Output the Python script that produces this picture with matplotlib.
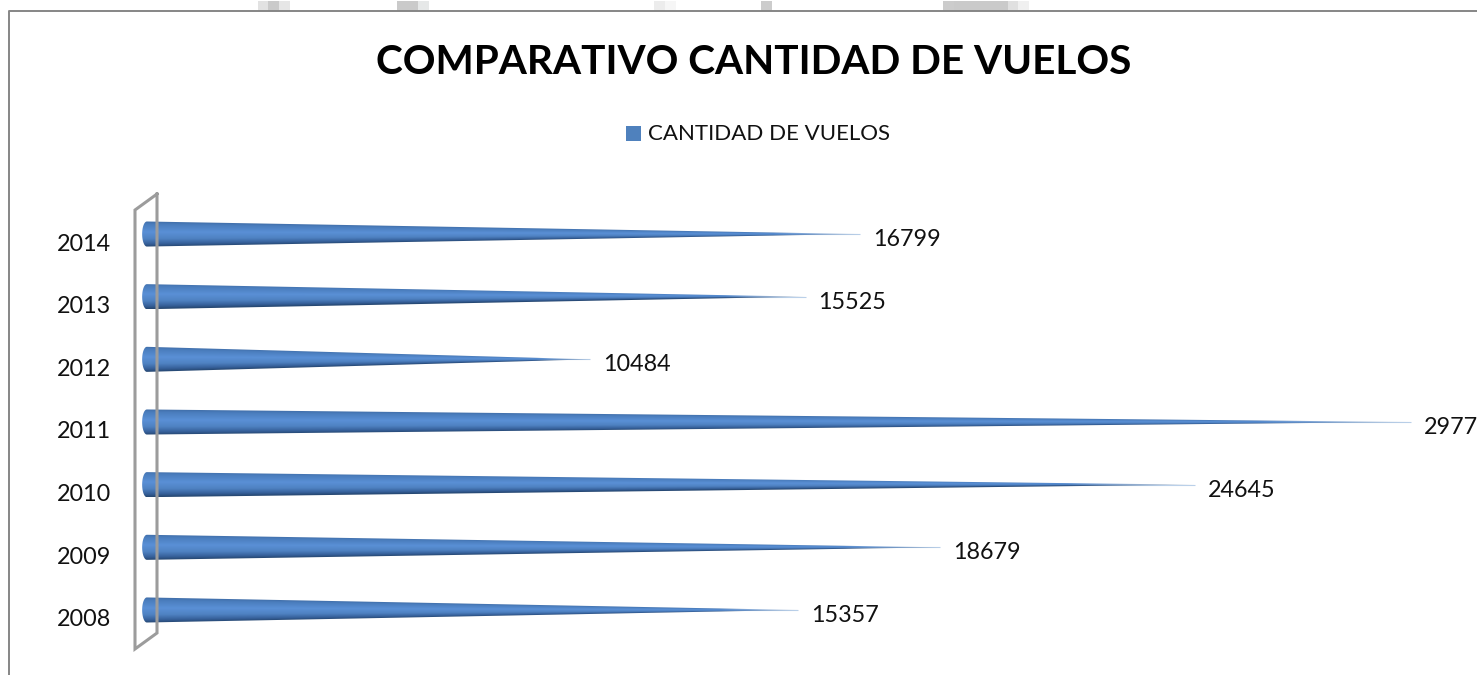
import numpy as np
import matplotlib
matplotlib.use('Agg')
from matplotlib import pyplot as plt
from matplotlib.colors import LinearSegmentedColormap
from matplotlib.lines import Line2D
from matplotlib.patches import Polygon, Rectangle
from matplotlib.transforms import Affine2D

years = ['2008', '2009', '2010', '2011', '2012', '2013', '2014']
vuelos = [15357, 18679, 24645, 29700, 10484, 15525, 16799]
# the last digit of 2011 is cut off by the picture edge
etiquetas = ['15357', '18679', '24645', '2977', '10484', '15525', '16799']
titulo = 'COMPARATIVO CANTIDAD DE VUELOS'
serie = 'CANTIDAD DE VUELOS'

W, H = 1477, 675
plt.rcParams['font.family'] = ['Lato', 'DejaVu Sans']

fig = plt.figure(figsize=(W / 100, H / 100), dpi=100)
# everything decorative is placed in screen pixels, y going down
px = Affine2D().scale(1, -1).translate(0, H)

# grey scraps above the chart frame
scraps = [(258, 11, '#e2e2e2'), (268, 12, '#cacaca'), (279, 11, '#e6e6e6'),
          (397, 21, '#cacaca'), (418, 11, '#e6e8e8'), (654, 11, '#ececec'),
          (665, 11, '#f6f6f6'), (761, 11, '#cccccc'), (943, 11, '#cccccc'),
          (954, 54, '#cacaca'), (1008, 10, '#e0e0e0'), (1018, 11, '#f0f0f0')]
for x0, w, c in scraps:
    fig.add_artist(Rectangle((x0, 1), w, 10, transform=px, fc=c, ec='none'))

# chart frame, only top and left are in the picture
fig.add_artist(Line2D([9, 9, W], [H, 11, 11], transform=px, color='#868686', lw=1.4))

fig.text(754 / W, 1 - 63 / H, titulo, fontsize=29.2, fontweight='bold',
         ha='center', va='center', color='black')
fig.add_artist(Rectangle((626, 126), 15, 15, transform=px, fc='#4f81bd', ec='none'))
fig.text(648 / W, 1 - 134 / H, serie, fontsize=16, ha='left', va='center', color='#111111')

# back wall of the 3d chart
fig.add_artist(Line2D([157, 135, 135, 157, 157], [194, 210, 649, 633, 194], transform=px,
                      color='#9c9c9c', lw=2.2, solid_joinstyle='miter'))

# axes: 143 px is the base of the cones, 0.04268 px for each flight
ax = fig.add_axes([143 / W, 1 - 641.3 / H, (W - 143) / W, (641.3 - 202.7) / H])
ax.axis('off')

cono = LinearSegmentedColormap.from_list('cono', [
    (0.0, '#3f6ca6'), (0.12, '#4a7dbd'), (0.42, '#5a90d6'), (0.68, '#4f82c2'),
    (0.88, '#36609a'), (1.0, '#25466f')])

half = 0.2
pos = np.arange(len(years))
for y, v, lab in zip(pos, vuelos, etiquetas):
    # round back end of the cone, then straight sides up to the tip
    ang = np.linspace(np.pi / 2, 3 * np.pi / 2, 25)
    ex = 110 * np.cos(ang) + 90
    ey = y + half * np.sin(ang)
    verts = list(zip(ex, ey)) + [(v, y)]
    clip = Polygon(verts, closed=True, transform=ax.transData, fc='none', ec='none')
    ax.add_patch(clip)

    s = np.linspace(0, 1, 500)[None, :]
    t = np.linspace(half, -half, 60)[:, None]
    local = half * (1 - s) + 0.004
    # 0 on the upper edge of the cone, 1 on the lower edge
    frac = np.clip((1 - t / local) / 2, 0, 1)
    rgba = cono(frac)
    # the point goes pale towards its end
    rgba[..., 3] = 0.2 + 0.8 * np.clip((1 - s) / 0.12, 0, 1)
    im = ax.imshow(rgba, extent=(-20, v, y - half, y + half), origin='upper',
                   aspect='auto', interpolation='bilinear', zorder=3)
    # the rounded end sticks out a little left of the axes
    im.set_clip_box(fig.bbox)
    im.set_clip_path(clip)
    # thin line so the tip does not vanish at the end
    ax.plot([v * 0.6, v], [y, y], color='#9dbce0', lw=0.8, alpha=0.7, zorder=2,
            solid_capstyle='butt')

    ax.annotate(lab, (v, y), xytext=(13, -5.5), textcoords='offset pixels', fontsize=16.8,
                ha='left', va='center', color='#111111', annotation_clip=False)
    ax.annotate(years[y], (0, y), xytext=(-32, -10), textcoords='offset pixels', fontsize=16.8,
                ha='right', va='center', color='#111111', annotation_clip=False)

ax.set_xlim(0, (W - 143) / 0.04268)
ax.set_ylim(-0.5, 6.5)

fig.savefig('out.png', dpi=100, facecolor='white')
